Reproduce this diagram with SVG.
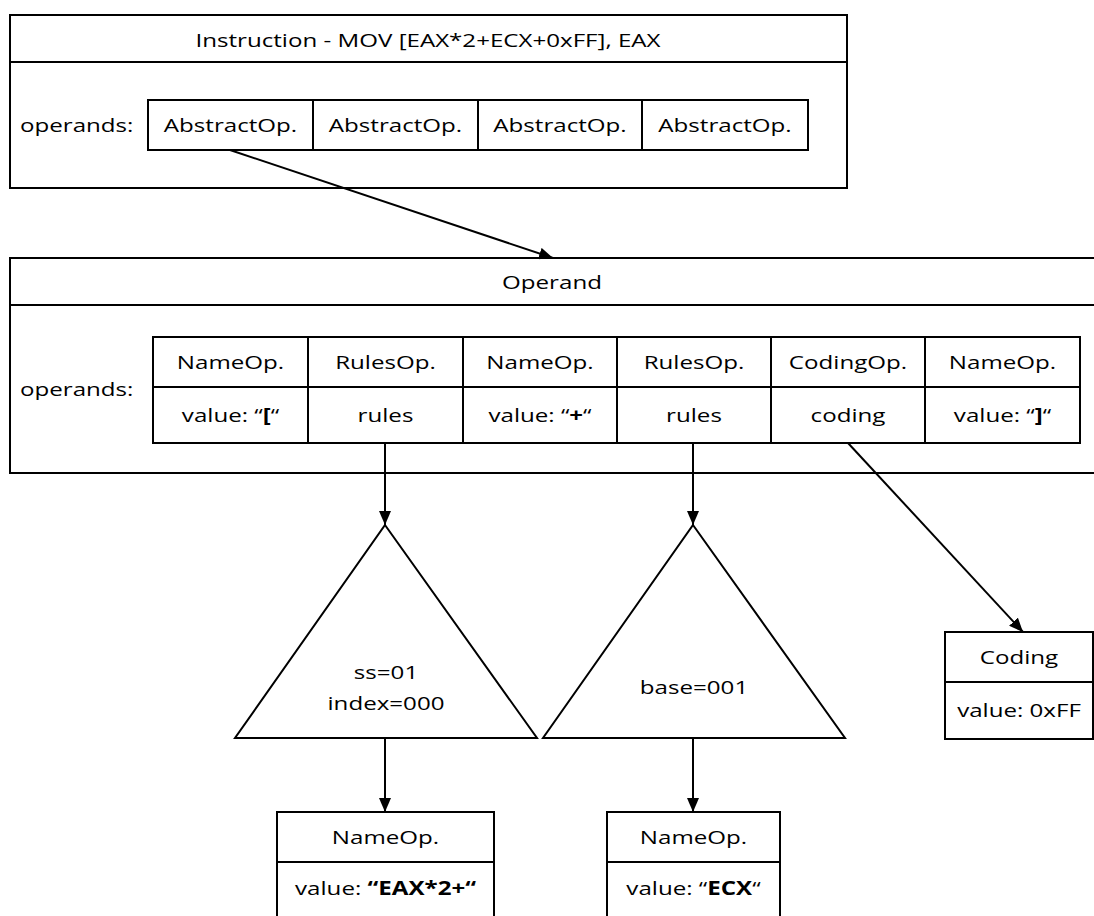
<svg xmlns="http://www.w3.org/2000/svg" width="1094" height="916" viewBox="0 0 1094 916">
<style>
  .box { fill: #ffffff; stroke: #000000; stroke-width: 2; }
  .ln { stroke: #000000; stroke-width: 2; fill: none; }
  .t { font-family: "Open Sans", "Noto Sans", "DejaVu Sans", sans-serif; font-size: 19px; fill: #000000; text-anchor: middle; }
  .tl { font-family: "Open Sans", "Noto Sans", "DejaVu Sans", sans-serif; font-size: 19px; fill: #000000; text-anchor: start; }
  .b { font-weight: bold; }
  .conn { stroke: #000000; stroke-width: 2; fill: none; marker-end: url(#arrow); }
</style>
<defs>
  <marker id="arrow" viewBox="0 0 14 12" refX="14" refY="6" markerWidth="14" markerHeight="12" markerUnits="userSpaceOnUse" orient="auto">
    <path d="M0,0 L14,6 L0,12 Z" fill="#000000"/>
  </marker>
</defs>
<rect width="1094" height="916" fill="#ffffff"/>

<g id="instruction">
  <rect class="box" x="10" y="15" width="837" height="173"/>
  <line class="ln" x1="10" y1="62" x2="847" y2="62"/>
  <text class="t" transform="translate(428,47) scale(1.27,1)">Instruction - MOV [EAX*2+ECX+0xFF], EAX</text>
  <text class="tl" transform="translate(20,132) scale(1.27,1)">operands:</text>
  <rect class="box" x="148" y="100" width="660" height="50"/>
  <line class="ln" x1="313" y1="100" x2="313" y2="150"/>
  <line class="ln" x1="478" y1="100" x2="478" y2="150"/>
  <line class="ln" x1="642" y1="100" x2="642" y2="150"/>
  <text class="t" transform="translate(230.5,132) scale(1.27,1)">AbstractOp.</text>
  <text class="t" transform="translate(395.5,132) scale(1.27,1)">AbstractOp.</text>
  <text class="t" transform="translate(560,132) scale(1.27,1)">AbstractOp.</text>
  <text class="t" transform="translate(725,132) scale(1.27,1)">AbstractOp.</text>
</g>

<g id="operand">
  <rect class="box" x="10" y="258" width="1100" height="215"/>
  <line class="ln" x1="10" y1="305" x2="1094" y2="305"/>
  <text class="t" transform="translate(552,289) scale(1.27,1)">Operand</text>
  <text class="tl" transform="translate(20,396) scale(1.27,1)">operands:</text>
  <rect class="box" x="153" y="337" width="927" height="106"/>
  <line class="ln" x1="153" y1="387" x2="1080" y2="387"/>
  <line class="ln" x1="308" y1="337" x2="308" y2="443"/>
  <line class="ln" x1="463" y1="337" x2="463" y2="443"/>
  <line class="ln" x1="617" y1="337" x2="617" y2="443"/>
  <line class="ln" x1="771" y1="337" x2="771" y2="443"/>
  <line class="ln" x1="925" y1="337" x2="925" y2="443"/>
  <text class="t" transform="translate(230.5,369) scale(1.27,1)">NameOp.</text>
  <text class="t" transform="translate(385.5,369) scale(1.27,1)">RulesOp.</text>
  <text class="t" transform="translate(540,369) scale(1.27,1)">NameOp.</text>
  <text class="t" transform="translate(694,369) scale(1.27,1)">RulesOp.</text>
  <text class="t" transform="translate(848,369) scale(1.27,1)">CodingOp.</text>
  <text class="t" transform="translate(1002.5,369) scale(1.27,1)">NameOp.</text>
  <text class="t" transform="translate(230.5,422) scale(1.27,1)">value: “<tspan class="b">[</tspan>“</text>
  <text class="t" transform="translate(385.5,422) scale(1.27,1)">rules</text>
  <text class="t" transform="translate(540,422) scale(1.27,1)">value: “<tspan class="b">+</tspan>“</text>
  <text class="t" transform="translate(694,422) scale(1.27,1)">rules</text>
  <text class="t" transform="translate(848,422) scale(1.27,1)">coding</text>
  <text class="t" transform="translate(1002.5,422) scale(1.27,1)">value: “<tspan class="b">]</tspan>“</text>
</g>

<g id="rules1">
  <polygon class="box" points="385,525 537,738 235,738"/>
  <text class="t" transform="translate(386,679) scale(1.27,1)">ss=01</text>
  <text class="t" transform="translate(386,710) scale(1.27,1)">index=000</text>
</g>

<g id="rules2">
  <polygon class="box" points="693,525 845,738 543,738"/>
  <text class="t" transform="translate(694,694) scale(1.27,1)">base=001</text>
</g>

<g id="coding">
  <rect class="box" x="945" y="632" width="148" height="107"/>
  <line class="ln" x1="945" y1="682" x2="1093" y2="682"/>
  <text class="t" transform="translate(1019,664) scale(1.27,1)">Coding</text>
  <text class="t" transform="translate(1019,717) scale(1.27,1)">value: 0xFF</text>
</g>

<g id="nameop1">
  <rect class="box" x="277" y="812" width="217" height="120"/>
  <line class="ln" x1="277" y1="862" x2="494" y2="862"/>
  <text class="t" transform="translate(385.5,844) scale(1.27,1)">NameOp.</text>
  <text class="t" transform="translate(385.5,895) scale(1.27,1)">value: <tspan class="b">“EAX*2+“</tspan></text>
</g>

<g id="nameop2">
  <rect class="box" x="607" y="812" width="173" height="120"/>
  <line class="ln" x1="607" y1="862" x2="780" y2="862"/>
  <text class="t" transform="translate(693.5,844) scale(1.27,1)">NameOp.</text>
  <text class="t" transform="translate(693.5,895) scale(1.27,1)">value: “<tspan class="b">ECX</tspan>“</text>
</g>

<g id="connectors">
  <line class="conn" x1="230" y1="150" x2="553" y2="258"/>
  <line class="conn" x1="385" y1="443" x2="385" y2="525"/>
  <line class="conn" x1="693" y1="443" x2="693" y2="525"/>
  <line class="conn" x1="848" y1="443" x2="1023" y2="632"/>
  <line class="conn" x1="385" y1="738" x2="385" y2="812"/>
  <line class="conn" x1="693" y1="738" x2="693" y2="812"/>
</g>
</svg>
